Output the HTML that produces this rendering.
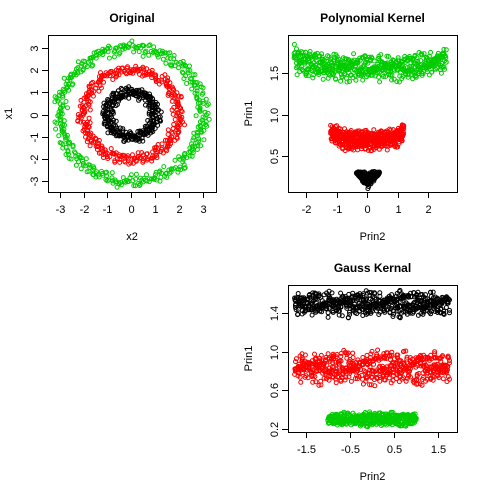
<!DOCTYPE html>
<html><head><meta charset="utf-8"><style>
body{margin:0;background:#fff}
svg{display:block;font-family:"Liberation Sans",sans-serif}
</style></head><body>
<svg id="c" width="480" height="480" viewBox="0 0 480 480"></svg>
<script>
// jitter values estimated by eye (cycled)
const jitA = [0.12,-0.55,0.83,-0.21,0.47,-0.92,0.05,0.66,-0.38,0.91,-0.74,0.28,-0.11,0.59,-0.63,0.17,-0.86,0.42,0.74,-0.3,0.02,-0.5,0.88,-0.15,0.35,-0.97,0.61,-0.44,0.21,0.79,-0.68,0.09,-0.26,0.53,-0.81,0.39,0.95,-0.07,-0.58,0.31,0.7,-0.9,0.14,-0.35,0.57,-0.19,0.84,-0.62,0.26,-0.77,0.48,0.03,-0.46,0.69,-0.12,0.93,-0.71,0.37,-0.04,0.63,-0.84];
const jitB = [-0.33,0.71,-0.08,0.52,-0.89,0.25,0.96,-0.6,0.13,-0.42,0.78,-0.17,0.44,-0.95,0.06,0.64,-0.27,0.86,-0.52,0.19,-0.73,0.38,0.01,-0.66,0.92,-0.14,0.55,-0.83,0.29,0.75,-0.48,0.1,-0.31,0.67,-0.99,0.41,-0.05,0.82,-0.57,0.23,0.6,-0.79,0.34,-0.22,0.9,-0.4,0.16,-0.69,0.5,0.98,-0.1,0.45,-0.87];
const ringR = [1.0, 2.0, 3.0];
const ringW = [0.2, 0.2, 0.22];
const ringN = [300, 340, 400];
const ringColors = ["#000000","#ff0000","#00cc00"];
// polynomial kernel bands
const polyXmin=[-0.35,-1.2,-2.4], polyXmax=[0.4,1.2,2.6], polyY=[0.12,0.69,1.56], polyTop=[0.31,0.85,1.75], polyCurve=[0.17,0.1,0.12], polySpread=[0.05,0.09,0.12], polyN=[260,520,560];
// gauss kernel bands
const gaussXmin=[-1.75,-1.75,-1.0], gaussXmax=[1.75,1.75,1.0], gaussY=[1.49,0.83,0.3], gaussSpread=[0.13,0.17,0.07], gaussN=[560,560,420];
const xt1=[-3,-2,-1,0,1,2,3], yt1=[-3,-2,-1,0,1,2,3];
const xt2=[-2,-1,0,1,2], yt2=[0.5,1.0,1.5], yl2=["0.5","1.0","1.5"];
const xt3=[-1.5,-0.5,0.5,1.5], yt3=[0.2,0.6,1.0,1.4], yl3=["0.2","0.6","1.0","1.4"];

const svg=document.getElementById('c');const NS='http://www.w3.org/2000/svg';
function mk(t,a,p){const e=document.createElementNS(NS,t);for(const k in a)e.setAttribute(k,a[k]);(p||svg).appendChild(e);return e;}
function txt(x,y,s,size,opt,p){const e=mk('text',Object.assign({x:x,y:y,'font-size':size,'text-anchor':'middle',fill:'#000'},opt||{}),p);e.textContent=s;return e;}
function J(i,k){return (jitB[(i*5+k*3)%jitB.length]+0.8*jitA[(i*7+k)%jitA.length])/1.5;}

function panel(name,box,xr,yr,xt,yt,ylab,title,xl,yl){
  const g=mk('g',{});
  
  
  const sx=v=>box[0]+(v-xr[0])/(xr[1]-xr[0])*(box[2]-box[0]);
  const sy=v=>box[3]-(v-yr[0])/(yr[1]-yr[0])*(box[3]-box[1]);
  const fr=mk('rect',{x:box[0]+.5,y:box[1]+.5,width:box[2]-box[0],height:box[3]-box[1],fill:'none',stroke:'#000'},g);
  
  const ax=mk('g',{},g);
  mk('line',{x1:sx(xt[0]),x2:sx(xt[xt.length-1]),y1:box[3]+.5,y2:box[3]+.5,stroke:'#000'},ax);
  xt.forEach(v=>{const X=Math.round(sx(v))+.5;mk('line',{x1:X,x2:X,y1:box[3],y2:box[3]+6,stroke:'#000'},ax);
    const t=txt(X,box[3]+21,String(v),11,{},ax);});
  const ay=mk('g',{},g);
  mk('line',{x1:box[0]+.5,x2:box[0]+.5,y1:sy(yt[0]),y2:sy(yt[yt.length-1]),stroke:'#000'},ay);
  yt.forEach((v,i)=>{const Y=Math.round(sy(v))+.5;mk('line',{x1:box[0]-6,x2:box[0],y1:Y,y2:Y,stroke:'#000'},ay);
    const t=txt(box[0]-10,Y,ylab?ylab[i]:String(v),11,{transform:`rotate(-90 ${box[0]-10} ${Y})`},ay);});
  const tt=txt((box[0]+box[2])/2,box[1]-13,title,12,{'font-weight':'bold'},g);
  const xa=txt((box[0]+box[2])/2,box[3]+48,xl,11,{},g);
  const yx=box[0]-36,yy=(box[1]+box[3])/2;
  const ya=txt(yx,yy,yl,11,{transform:`rotate(-90 ${yx} ${yy})`},g);
  return {g,sx,sy};
}
function pt(p,g,x,y,col){const c=mk('circle',{cx:p.sx(x).toFixed(1),cy:p.sy(y).toFixed(1),r:2,fill:'none',stroke:col,'stroke-width':1},g);
  }

// Panel 1
const p1=panel('original-panel',[48,35,216,192],[-3.5,3.56],[-3.48,3.58],xt1,yt1,null,'Original','x2','x1');
ringR.forEach((R,k)=>{const s=mk('g',{},p1.g);
  for(let i=0;i<ringN[k];i++){const a=2*Math.PI*(i+0.6*jitA[(i*11+k)%jitA.length])/ringN[k];const r=R+ringW[k]*J(i,k)*1.3;
    pt(p1,s,r*Math.sin(a),r*Math.cos(a),ringColors[k]);}});
// Panel 2
const p2=panel('polynomial-kernel-panel',[288,35,457,192],[-2.6,2.95],[0.07,1.96],xt2,yt2,yl2,'Polynomial Kernel','Prin2','Prin1');
polyN.forEach((n,k)=>{const s=mk('g',{},p2.g);
  const xm=(polyXmin[k]+polyXmax[k])/2,hw=(polyXmax[k]-polyXmin[k])/2;
  for(let i=0;i<n;i++){const u=(i/(n-1))*2-1+0.03*jitA[i%jitA.length];const uu=Math.max(-1,Math.min(1,u));const x=xm+hw*uu;
    const j=J(i,k);let y;
    if(k==0){const bot=polyY[k]+(polyTop[k]-polyY[k]-0.02)*Math.abs(uu);y=polyTop[k]-(polyTop[k]-bot)*(j+1)/2;}
    else {y=polyY[k]+polyCurve[k]*Math.pow(Math.abs(uu),4)+polySpread[k]*j*1.3;}
    pt(p2,s,x,y,ringColors[k]);}});
// Panel 3
const p3=panel('gauss-kernel-panel',[288,285,457,432],[-1.9,1.92],[0.17,1.69],xt3,yt3,yl3,'Gauss Kernal','Prin2','Prin1');
gaussN.forEach((n,k)=>{const s=mk('g',{},p3.g);
  const xm=(gaussXmin[k]+gaussXmax[k])/2,hw=(gaussXmax[k]-gaussXmin[k])/2;
  for(let i=0;i<n;i++){const u=(i/(n-1))*2-1+0.03*jitA[(i*3)%jitA.length];const x=xm+hw*Math.max(-1,Math.min(1,u));
    const sp=gaussSpread[k]*(1-0.3*Math.pow(Math.abs(u),6));
    pt(p3,s,x,gaussY[k]+sp*J(i,k+4),ringColors[k]);}});
</script>
</body></html>
